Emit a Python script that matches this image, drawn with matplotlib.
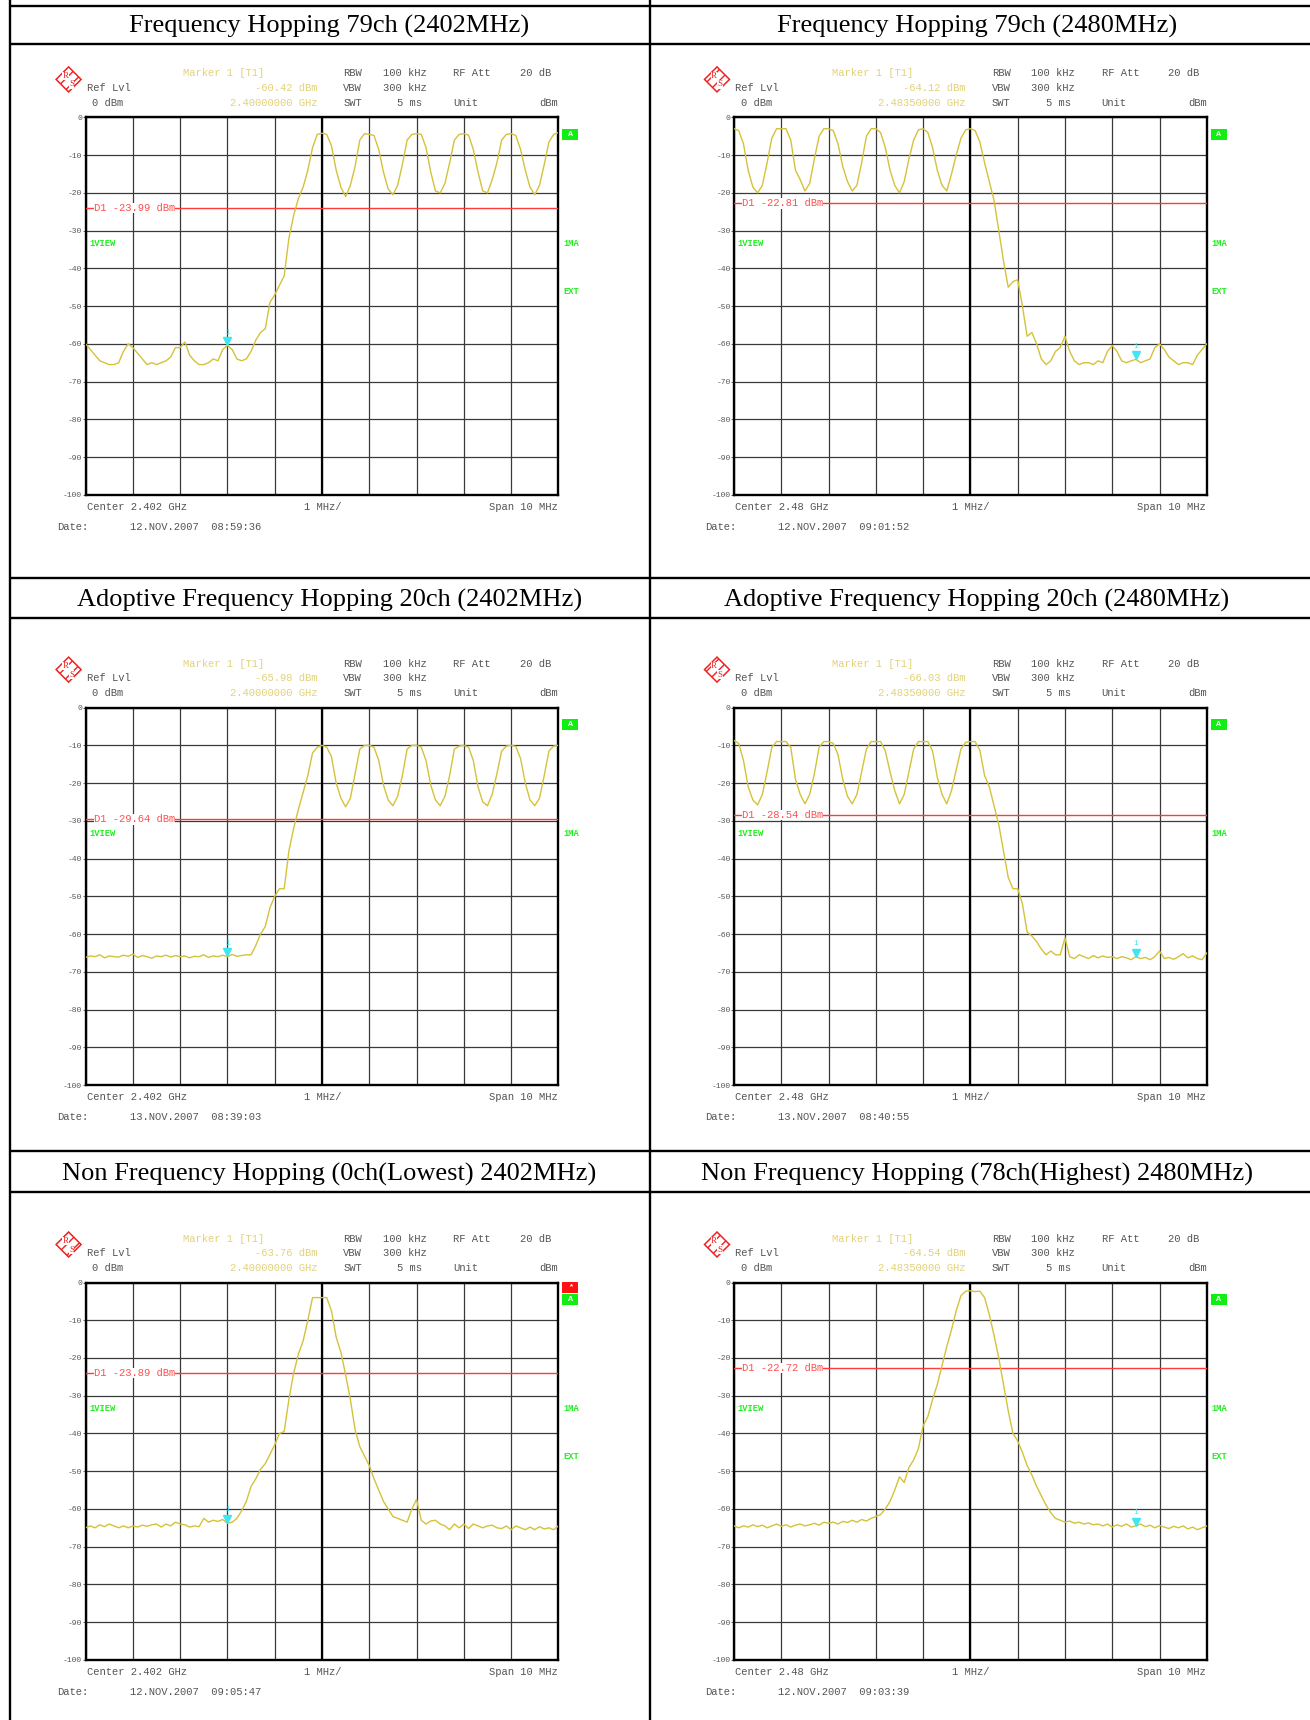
import numpy as np
import matplotlib
matplotlib.use("Agg")
import matplotlib.pyplot as plt
from matplotlib.patches import Rectangle, RegularPolygon
import matplotlib.transforms as mtransforms

# ---------------- data ----------------
freq_offset_mhz = np.round(np.arange(-5.0, 5.0001, 0.1), 1)  # offset from centre, 1 MHz/div

fh79_low_dbm = [
    -60, -61.5, -63, -64.5, -65, -65.5, -65.5, -65, -62, -60,
    -61, -62.5, -64, -65.5, -65, -65.5, -65, -64.5, -63.5, -61,
    -61, -59.5, -63, -64.5, -65.5, -65.5, -65, -64, -64.5, -61.5,
    -60.4, -61.5, -64, -64.5, -64, -62, -59, -57, -56, -49,
    -47, -44.5, -42, -32, -26, -21.5, -18.5, -14, -8, -4.5,
    -4.2, -4.5, -7.5, -14, -18.5, -21, -18, -13, -6, -4.3,
    -4.5, -4.8, -8.5, -14.5, -19, -20.5, -18, -12.5, -6, -4.5,
    -4.3, -4.5, -8, -14.5, -19.5, -20, -17.5, -12, -6, -4.5,
    -4.3, -4.7, -8.5, -14.5, -19.5, -20, -16.5, -12, -6, -4.5,
    -4.3, -4.8, -8.5, -14, -18.5, -20.5, -18, -12.5, -6.5, -4.5,
    -4.0]

fh79_high_dbm = [
    -3, -3.5, -7, -14, -18.5, -20, -18, -12, -5.5, -3,
    -3, -3, -6, -14, -16.5, -19.5, -17.5, -11, -5, -3,
    -3, -3.5, -7, -13, -17, -19.5, -18, -12, -5, -3,
    -3, -4, -8, -14, -18, -20, -17, -11, -6, -3.3,
    -3, -4, -8, -14, -18, -19.5, -15, -10, -5.5, -3.3,
    -3, -3.5, -6.5, -12, -17, -22, -30, -38, -45, -43.5,
    -43, -50, -58, -57, -60, -64, -65.5, -64.5, -62, -61,
    -58, -62, -64.5, -65.5, -65, -65, -65.5, -64.5, -65, -62,
    -60.5, -62, -64.5, -65, -64.5, -64.1, -65, -64.5, -64, -61,
    -60, -61.5, -63.5, -64.5, -65.5, -65, -65, -65.5, -63, -61.5,
    -60]

afh20_low_dbm = [
    -66.2, -65.8, -66, -65.5, -66.3, -65.8, -66, -66.1, -65.6, -65.9,
    -65.3, -66.2, -65.7, -66, -66.4, -65.8, -66, -65.6, -66.1, -65.7,
    -66, -65.8, -66.3, -65.9, -66, -65.5, -66.2, -65.8, -66, -65.6,
    -66, -65.4, -65.9, -65.7, -65.5, -65.5, -63, -60, -58, -53,
    -50, -48, -48, -38, -32, -27, -22.5, -18, -12, -10.5,
    -10, -10.5, -13, -20, -24, -26.3, -24, -17.5, -11, -10,
    -10, -10.5, -14, -20.5, -24.5, -26, -23.5, -18, -11, -10,
    -10, -10.5, -14, -20.5, -24.5, -26, -23.5, -18, -11, -10.2,
    -10, -10.5, -14, -21, -25, -26, -23, -17.5, -11.5, -10.2,
    -10, -10.3, -13.5, -20, -24.5, -26, -24, -18, -11.5, -10.2,
    -10]

afh20_high_dbm = [
    -8.7, -9.5, -14, -21, -24.5, -25.8, -23, -17, -10.5, -9,
    -9, -9, -10.5, -19, -23, -25.5, -23, -17.5, -10.5, -9,
    -9, -9.5, -12.5, -19, -23.5, -25.5, -23, -17, -11, -9,
    -9, -9, -11.5, -17, -22, -25.5, -23, -17, -11, -9,
    -9, -9, -11.5, -18.5, -23, -25.5, -22, -16.5, -11, -9.2,
    -9, -9, -11.3, -18, -21, -26, -31, -38, -45, -48,
    -48, -52, -59.5, -60.5, -62, -64, -65.5, -64.5, -65.5, -65.5,
    -61, -66, -66.5, -65.5, -66, -66.5, -65.7, -66.3, -65.8, -66.2,
    -66, -66.5, -66, -66.3, -66.8, -66, -66.5, -66.2, -66.8, -66,
    -64.5, -66.5, -66.2, -66.7, -66, -65.2, -66.3, -65.8, -66.5, -66.8,
    -65]

nfh_low_dbm = [
    -65, -64.5, -65, -64.2, -64.7, -64, -64.5, -65, -64.5, -65,
    -64.5, -64.8, -64.3, -64.6, -64.2, -64, -64.8, -64, -64.5, -63.5,
    -64, -64.2, -64.8, -64.5, -64.7, -62.5, -63.5, -63, -63.3, -62.8,
    -63.8, -63.5, -62.5, -60.5, -58, -54, -52, -49.5, -48, -45.5,
    -43, -40, -39.5, -31, -24, -19, -15.5, -10, -4, -4,
    -4, -4, -7.5, -14.5, -18.5, -24.5, -31, -39, -43.5, -46,
    -48.5, -52, -55, -58, -60, -62, -62.5, -63, -63.5, -60,
    -57.5, -63, -64, -63.2, -63, -64, -64.5, -65.5, -64, -65,
    -64, -65.2, -64, -64.5, -65, -64.5, -64.3, -65, -65.2, -64.5,
    -65.5, -64.5, -65, -65.5, -64.8, -65.5, -64.7, -65.3, -65, -65.5,
    -64.5]

nfh_high_dbm = [
    -64.5, -65, -64.5, -64.8, -64.2, -64.7, -64.3, -65, -64.5, -64,
    -64.6, -64.2, -64.8, -64.3, -64, -64.5, -64.2, -63.8, -64.3, -63.5,
    -63.8, -63.5, -64, -63.3, -63.6, -63, -63.5, -62.8, -63.2, -62.5,
    -62, -61.5, -60, -58, -55, -51.5, -53, -49, -47, -44,
    -38, -35.5, -31, -27, -22, -17, -12.5, -7.5, -3.5, -2.3,
    -2.2, -2.4, -2.3, -4, -8.5, -14, -20, -27, -34, -40,
    -42, -45, -48.5, -51, -54, -56.5, -59, -61, -62.5, -63,
    -63.5, -63.2, -63.8, -63.5, -64, -63.7, -64.2, -64, -64.5, -64,
    -64.8, -64.2, -64.6, -64, -64.8, -64.5, -64, -64.7, -64.3, -65,
    -64.4, -64.8, -65.2, -64.6, -65, -64.5, -65.3, -64.8, -65.5, -65,
    -64.5]

panel_titles = [
    "Frequency Hopping 79ch (2402MHz)", "Frequency Hopping 79ch (2480MHz)",
    "Adoptive Frequency Hopping 20ch (2402MHz)", "Adoptive Frequency Hopping 20ch (2480MHz)",
    "Non Frequency Hopping (0ch(Lowest) 2402MHz)", "Non Frequency Hopping (78ch(Highest) 2480MHz)",
]
traces = [fh79_low_dbm, fh79_high_dbm, afh20_low_dbm, afh20_high_dbm, nfh_low_dbm, nfh_high_dbm]
marker_level_dbm = [-60.42, -64.12, -65.98, -66.03, -63.76, -64.54]
marker_offset_mhz = [-2.0, 3.5, -2.0, 3.5, -2.0, 3.5]
marker_freq_labels = ["2.40000000 GHz", "2.48350000 GHz"] * 3
d1_level_dbm = [-23.99, -22.81, -29.64, -28.54, -23.89, -22.72]
center_labels = ["Center 2.402 GHz", "Center 2.48 GHz"] * 3
date_labels = ["12.NOV.2007  08:59:36", "12.NOV.2007  09:01:52",
               "13.NOV.2007  08:39:03", "13.NOV.2007  08:40:55",
               "12.NOV.2007  09:05:47", "12.NOV.2007  09:03:39"]
show_ext = [True, True, False, False, True, True]
show_star = [False, False, False, False, True, False]
ytick_values = list(range(-100, 1, 10))
ytick_labels = [str(v) for v in ytick_values]

# ---------------- style ----------------
W, H = 1310, 1720
MONO = "Liberation Mono"
SERIF = "Liberation Serif"
GRAY = "#555555"
YEL = "#e2d27a"
TRACE = "#d4c23a"
GREEN = "#22ee22"
RED = "#ff3a3a"
CYAN = "#3fe6f2"
FS = 7.6

fig = plt.figure(figsize=(W / 100, H / 100), dpi=100)
ax0 = fig.add_axes([0, 0, 1, 1])
ax0.set_xlim(0, W)
ax0.set_ylim(H, 0)
ax0.axis("off")

# table lines
LW_T = 1.7
for x in (9.5, 649.5):
    ax0.plot([x, x], [0, H], color="black", lw=LW_T, solid_capstyle="butt")
for y in (5.5, 44, 578, 618, 1151, 1192):
    ax0.plot([9.5, W], [y, y], color="black", lw=LW_T, solid_capstyle="butt")

title_y = [26.5, 600.5, 1174]
col_cx = [329.5, 977]
col_left = [85.6, 734.0]
row_top = [117.4, 707.6, 1282.5]
PW, PH = 472.8, 377.4


def txt(x, y, s, color=GRAY, ha="left", size=FS, **kw):
    ax0.text(x, y, s, color=color, ha=ha, va="center", fontsize=size,
             family=MONO, **kw)


for i in range(6):
    r, c = divmod(i, 2)
    L, T = col_left[c], row_top[r]
    R, B = L + PW, T + PH

    ax0.text(col_cx[c], title_y[r], panel_titles[i], ha="center", va="center",
             fontsize=19, family=SERIF, color="black")

    # R&S logo
    lx, ly = L - 17, T - 38
    ax0.add_patch(RegularPolygon((lx, ly), 4, radius=12.5, orientation=0,
                                 facecolor="white", edgecolor="#ee2222", lw=1.1,
                                 hatch="///"))
    ax0.text(lx - 3, ly - 3.5, "R", color="#ee2222", fontsize=6.5, family=SERIF,
             ha="center", va="center",
             bbox=dict(facecolor="white", edgecolor="none", pad=0.1))
    ax0.text(lx + 3, ly + 5, "S", color="#ee2222", fontsize=6.5, family=SERIF,
             ha="center", va="center",
             bbox=dict(facecolor="white", edgecolor="none", pad=0.1))

    y1, y2, y3 = T - 44, T - 29.6, T - 14.3
    txt(L + 97.6, y1, "Marker 1 [T1]", color=YEL)
    txt(L + 231.5, y2, f"{marker_level_dbm[i]:.2f} dBm", color=YEL, ha="right")
    txt(L + 231.5, y3, marker_freq_labels[i], color=YEL, ha="right")
    txt(L + 1, y2, "Ref Lvl")
    txt(L + 6.6, y3, "0 dBm")
    txt(L + 257.8, y1, "RBW")
    txt(L + 297, y1, "100 kHz")
    txt(L + 367.5, y1, "RF Att")
    txt(L + 434, y1, "20 dB")
    txt(L + 257.8, y2, "VBW")
    txt(L + 297, y2, "300 kHz")
    txt(L + 257.8, y3, "SWT")
    txt(L + 311.6, y3, "5 ms")
    txt(L + 367.5, y3, "Unit")
    txt(R, y3, "dBm", ha="right")

    txt(L + 1, B + 12, center_labels[i])
    txt(L + 218, B + 12, "1 MHz/")
    txt(R - 1, B + 12, "Span 10 MHz", ha="right")
    txt(L - 28.5, B + 32, "Date:")
    txt(L + 44, B + 32, date_labels[i])

    # status boxes on the right
    ax0.add_patch(Rectangle((R + 4, T + 11.5), 16, 11, facecolor="#11ee11",
                            edgecolor="none"))
    ax0.text(R + 12, T + 17, "A", color="white", fontsize=6, family=MONO,
             ha="center", va="center", fontweight="bold")
    if show_star[i]:
        ax0.add_patch(Rectangle((R + 4, T - 1), 16, 11, facecolor="#ff1111",
                                edgecolor="none"))
        ax0.text(R + 12, T + 4.5, "*", color="white", fontsize=6, family=MONO,
                 ha="center", va="center", fontweight="bold")

    # spectrum axes
    ax = fig.add_axes([L / W, 1 - B / H, PW / W, PH / H])
    ax.set_xlim(-5, 5)
    ax.set_ylim(-100, 0)
    ax.set_xticks(np.arange(-5, 6, 1))
    ax.set_yticks(ytick_values)
    ax.set_yticklabels(ytick_labels)
    ax.tick_params(axis="x", length=0, labelbottom=False)
    ax.tick_params(axis="y", length=2, width=0.6, color=GRAY, pad=0.5,
                   labelsize=5.8, labelcolor=GRAY)
    for lab in ax.get_yticklabels():
        lab.set_family(MONO)
    ax.grid(True, color="#3a3a3a", lw=0.9)
    ax.set_axisbelow(True)
    for sp in ax.spines.values():
        sp.set_linewidth(1.7)
        sp.set_color("black")
    ax.axvline(0, color="black", lw=1.6, zorder=1)

    ax.axhline(d1_level_dbm[i], color=RED, lw=1.0, zorder=3)
    ax.text(-4.83, d1_level_dbm[i], f"D1 {d1_level_dbm[i]:.2f} dBm", color="#ff5050",
            fontsize=FS, family=MONO, va="center", ha="left", zorder=4,
            bbox=dict(facecolor="white", edgecolor="none", pad=0.1))

    ax.plot(freq_offset_mhz, traces[i], color=TRACE, lw=1.0, zorder=5)

    mtr = mtransforms.offset_copy(ax.transData, fig=fig, y=3.0, units="points")
    ax.plot([marker_offset_mhz[i]], [marker_level_dbm[i]], marker="v", ms=5.5,
            color=CYAN, transform=mtr, zorder=6, clip_on=False)
    ax.annotate("1", (marker_offset_mhz[i], marker_level_dbm[i]), xytext=(0, 9.5),
                textcoords="offset points", ha="center", va="center",
                fontsize=5.5, color=CYAN, family=MONO, zorder=6)

    ax.text(-4.92, -33.4, "1VIEW", color=GREEN, fontsize=6.3, family=MONO,
            va="center", ha="left", fontweight="bold")
    ax.text(5.1, -33.4, "1MA", color=GREEN, fontsize=6.3, family=MONO,
            va="center", ha="left", fontweight="bold", clip_on=False)
    if show_ext[i]:
        ax.text(5.1, -46, "EXT", color=GREEN, fontsize=6.3, family=MONO,
                va="center", ha="left", fontweight="bold", clip_on=False)

fig.savefig("out.png", dpi=100, facecolor="white")
